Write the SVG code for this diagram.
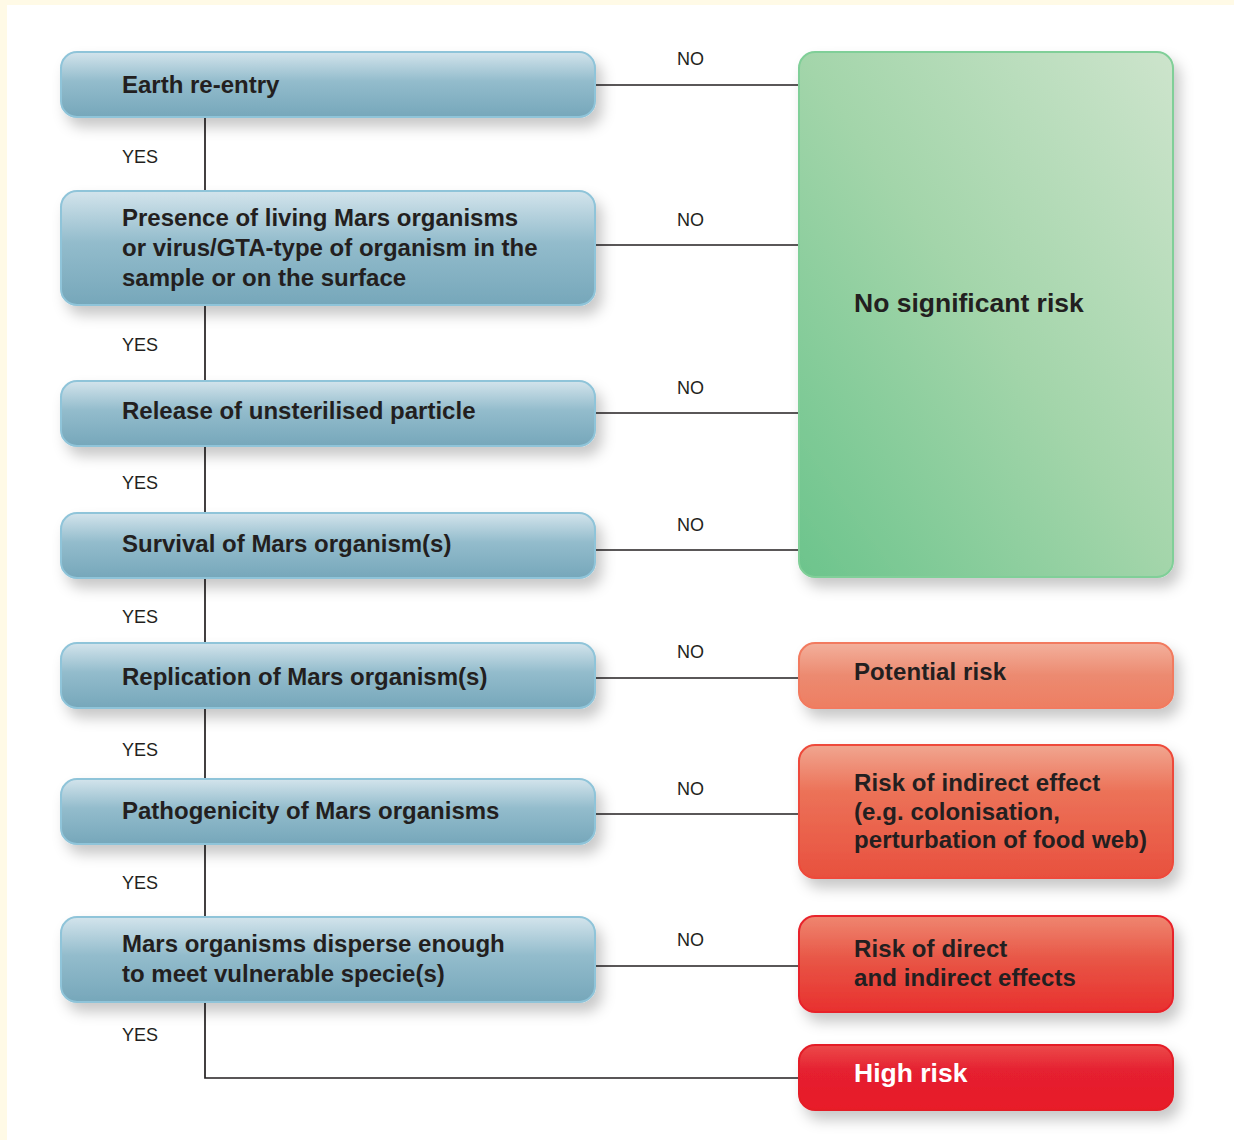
<svg xmlns="http://www.w3.org/2000/svg" width="1234" height="1140" viewBox="0 0 1234 1140">
<defs>
  <linearGradient id="gBlue" x1="0" y1="0" x2="0" y2="1">
    <stop offset="0" stop-color="#d3e4ec"/>
    <stop offset="0.45" stop-color="#93bccc"/>
    <stop offset="1" stop-color="#76a7ba"/>
  </linearGradient>
  <linearGradient id="gGreen" x1="1" y1="0" x2="0" y2="1">
    <stop offset="0" stop-color="#cde4cc"/>
    <stop offset="0.5" stop-color="#a3d5aa"/>
    <stop offset="1" stop-color="#6cc48c"/>
  </linearGradient>
  <linearGradient id="gPot" x1="0" y1="0" x2="0" y2="1">
    <stop offset="0" stop-color="#f3b09c"/>
    <stop offset="0.5" stop-color="#ec8a70"/>
    <stop offset="1" stop-color="#ee7e62"/>
  </linearGradient>
  <linearGradient id="gInd" x1="0" y1="0" x2="0" y2="1">
    <stop offset="0" stop-color="#f1a690"/>
    <stop offset="0.35" stop-color="#ec7258"/>
    <stop offset="1" stop-color="#e8503e"/>
  </linearGradient>
  <linearGradient id="gDir" x1="0" y1="0" x2="0" y2="1">
    <stop offset="0" stop-color="#ef8670"/>
    <stop offset="0.45" stop-color="#e85646"/>
    <stop offset="1" stop-color="#e8302e"/>
  </linearGradient>
  <linearGradient id="gHigh" x1="0" y1="0" x2="0" y2="1">
    <stop offset="0" stop-color="#ec4a4a"/>
    <stop offset="0.4" stop-color="#e52030"/>
    <stop offset="1" stop-color="#e81c28"/>
  </linearGradient>
  <filter id="sh" x="-10%" y="-20%" width="130%" height="160%">
    <feDropShadow dx="6" dy="9" stdDeviation="7" flood-color="#000" flood-opacity="0.22"/>
  </filter>
  <style>
    .q { fill: url(#gBlue); stroke: #8fc4d9; stroke-width: 2; filter: url(#sh); }
    .t { font-family: "Liberation Sans", Arial, sans-serif; font-weight: bold; font-size: 24px; fill: #231f20; }
    .r { font-family: "Liberation Sans", Arial, sans-serif; font-weight: bold; font-size: 24px; letter-spacing: 0.1px; fill: #231f20; }
    .big { font-size: 26.5px; letter-spacing: 0px; }
    .lab { font-family: "Liberation Sans", Arial, sans-serif; font-size: 18px; fill: #231f20; }
    .ln { stroke: #231f20; stroke-width: 1.7; fill: none; }
  </style>
</defs>
<rect x="0" y="0" width="1234" height="1140" fill="#fffae6"/>
<rect x="7" y="5" width="1227" height="1135" fill="#ffffff"/>

<g id="connectors">
  <path class="ln" d="M205 117 V1078 H799"/>
  <line class="ln" x1="595" y1="85" x2="799" y2="85"/>
  <line class="ln" x1="595" y1="245" x2="799" y2="245"/>
  <line class="ln" x1="595" y1="413" x2="799" y2="413"/>
  <line class="ln" x1="595" y1="550" x2="799" y2="550"/>
  <line class="ln" x1="595" y1="678" x2="799" y2="678"/>
  <line class="ln" x1="595" y1="814" x2="799" y2="814"/>
  <line class="ln" x1="595" y1="966" x2="799" y2="966"/>
  <text class="lab" x="122" y="163">YES</text>
  <text class="lab" x="122" y="351">YES</text>
  <text class="lab" x="122" y="489">YES</text>
  <text class="lab" x="122" y="623">YES</text>
  <text class="lab" x="122" y="756">YES</text>
  <text class="lab" x="122" y="889">YES</text>
  <text class="lab" x="122" y="1041">YES</text>
  <text class="lab" x="677" y="65">NO</text>
  <text class="lab" x="677" y="226">NO</text>
  <text class="lab" x="677" y="394">NO</text>
  <text class="lab" x="677" y="531">NO</text>
  <text class="lab" x="677" y="658">NO</text>
  <text class="lab" x="677" y="795">NO</text>
  <text class="lab" x="677" y="946">NO</text>
</g>

<g id="q1"><rect class="q" x="61" y="52" width="534" height="65" rx="16"/>
  <text class="t" x="122" y="93">Earth re-entry</text></g>
<g id="q2"><rect class="q" x="61" y="191" width="534" height="114" rx="16"/>
  <text class="t" x="122" y="226">Presence of living Mars organisms</text>
  <text class="t" x="122" y="256">or virus/GTA-type of organism in the</text>
  <text class="t" x="122" y="286">sample or on the surface</text></g>
<g id="q3"><rect class="q" x="61" y="381" width="534" height="65" rx="16"/>
  <text class="t" x="122" y="419">Release of unsterilised particle</text></g>
<g id="q4"><rect class="q" x="61" y="513" width="534" height="65" rx="16"/>
  <text class="t" x="122" y="552">Survival of Mars organism(s)</text></g>
<g id="q5"><rect class="q" x="61" y="643" width="534" height="65" rx="16"/>
  <text class="t" x="122" y="685">Replication of Mars organism(s)</text></g>
<g id="q6"><rect class="q" x="61" y="779" width="534" height="65" rx="16"/>
  <text class="t" x="122" y="819">Pathogenicity of Mars organisms</text></g>
<g id="q7"><rect class="q" x="61" y="917" width="534" height="85" rx="16"/>
  <text class="t" x="122" y="952">Mars organisms disperse enough</text>
  <text class="t" x="122" y="982">to meet vulnerable specie(s)</text></g>

<g id="noRisk"><rect x="799" y="52" width="374" height="525" rx="16" fill="url(#gGreen)" stroke="#80cf98" stroke-width="2" filter="url(#sh)"/>
  <text class="r big" x="854" y="312">No significant risk</text></g>
<g id="potential"><rect x="799" y="643" width="374" height="65" rx="16" fill="url(#gPot)" stroke="#f27a5e" stroke-width="2" filter="url(#sh)"/>
  <text class="r" x="854" y="680">Potential risk</text></g>
<g id="indirect"><rect x="799" y="745" width="374" height="133" rx="16" fill="url(#gInd)" stroke="#ee4a3a" stroke-width="2" filter="url(#sh)"/>
  <text class="r" x="854" y="791">Risk of indirect effect</text>
  <text class="r" x="854" y="820">(e.g. colonisation,</text>
  <text class="r" x="854" y="848">perturbation of food web)</text></g>
<g id="direct"><rect x="799" y="916" width="374" height="96" rx="16" fill="url(#gDir)" stroke="#e8242c" stroke-width="2" filter="url(#sh)"/>
  <text class="r" x="854" y="957">Risk of direct</text>
  <text class="r" x="854" y="986">and indirect effects</text></g>
<g id="high"><rect x="799" y="1045" width="374" height="65" rx="16" fill="url(#gHigh)" stroke="#e41c28" stroke-width="2" filter="url(#sh)"/>
  <text class="r big" x="854" y="1082" style="fill:#ffffff">High risk</text></g>
</svg>
